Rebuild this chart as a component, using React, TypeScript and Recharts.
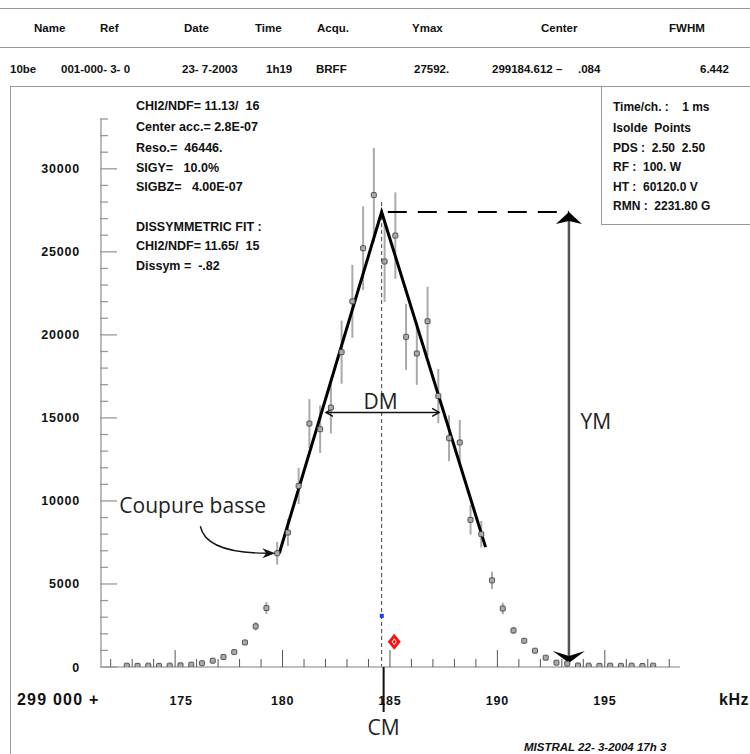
import React from 'react';
import {
  ComposedChart,
  Scatter,
  Line,
  XAxis,
  YAxis,
  ErrorBar,
  ReferenceLine,
  ReferenceDot,
} from 'recharts';

// ---------- data ----------
const freqs = [
  172.75, 173.25, 173.75, 174.25, 174.75, 175.25, 175.75, 176.25, 176.75, 177.25,
  177.75, 178.25, 178.75, 179.25, 179.75, 180.25, 180.75, 181.25, 181.75, 182.25,
  182.75, 183.25, 183.75, 184.25, 184.75, 185.25, 185.75, 186.25, 186.75, 187.25,
  187.75, 188.25, 188.75, 189.25, 189.75, 190.25, 190.75, 191.25, 191.75, 192.25,
  192.75, 193.25, 193.75, 194.25, 194.75, 195.25, 195.75, 196.25, 196.75, 197.25,
];
const counts = [
  80, 70, 80, 70, 80, 100, 140, 230, 380, 600,
  900, 1480, 2450, 3550, 6850, 8100, 10900, 14660, 14320, 15620,
  18960, 22020, 25220, 28420, 24420, 25980, 19880, 18880, 20820, 16320,
  13780, 13520, 8860, 8000, 5220, 3520, 2200, 1580, 980, 560,
  260, 200, 90, 80, 70, 80, 70, 80, 60, 80,
];
const errors = [
  10, 10, 10, 10, 10, 12, 15, 25, 40, 60,
  90, 150, 250, 360, 690, 810, 1090, 1470, 1430, 1560,
  1900, 2200, 2520, 2840, 2440, 2600, 1990, 1890, 2080, 1630,
  1380, 1350, 890, 800, 520, 350, 220, 160, 100, 60,
  30, 20, 10, 10, 10, 10, 10, 10, 10, 10,
];
const fitX = [179.85, 184.612, 189.45];
const fitY = [6850, 27400, 7220];
const centerKHz = 184.612;
const ymaxFit = 27400;
const ymArrowX = 193.33;
const dmY = 15330;
const dmFrom = 182.02;
const dmTo = 187.29;
const blueMark = { x: 184.62, y: 3080 };
const redMark = { x: 185.2, y: 1520 };

const xTicks = [
  172, 173, 174, 175, 176, 177, 178, 179, 180, 181, 182, 183, 184, 185,
  186, 187, 188, 189, 190, 191, 192, 193, 194, 195, 196, 197, 198,
];
const yTicks = [
  0, 1000, 2000, 3000, 4000, 5000, 6000, 7000, 8000, 9000, 10000, 11000,
  12000, 13000, 14000, 15000, 16000, 17000, 18000, 19000, 20000, 21000,
  22000, 23000, 24000, 25000, 26000, 27000, 28000, 29000, 30000, 31000,
  32000, 33000,
];
const xLabelTicks = [175, 180, 185, 190, 195];
const yLabelTicks = [0, 5000, 10000, 15000, 20000, 25000, 30000];

const headerLabels = ['Name', 'Ref', 'Date', 'Time', 'Acqu.', 'Ymax', 'Center', 'FWHM'];
const headerValues = ['10be', '001-000- 3- 0', '23- 7-2003', '1h19', 'BRFF', '27592.', '299184.612 \u2013', '.084', '6.442'];
const leftInfo = [
  'CHI2/NDF= 11.13/  16',
  'Center acc.= 2.8E-07',
  'Reso.=  46446.',
  'SIGY=   10.0%',
  'SIGBZ=   4.00E-07',
  'DISSYMMETRIC FIT :',
  'CHI2/NDF= 11.65/  15',
  'Dissym =  -.82',
];
const rightInfo = [
  'Time/ch. :    1 ms',
  'Isolde  Points',
  'PDS :  2.50  2.50',
  'RF :  100. W',
  'HT :  60120.0 V',
  'RMN :  2231.80 G',
];

const points = freqs.map((x, i) => ({ x, y: counts[i], err: errors[i] }));
const fitData = fitX.map((x, i) => ({ x, y: fitY[i] }));

// ---------- styles ----------
const HV = 'Liberation Sans, Arial, Helvetica, sans-serif';
const HUM = 'Open Sans, Lato, sans-serif';
const txt = {
  fontFamily: HV,
  fontWeight: 700,
  fontSize: 12,
  fill: '#111',
  whiteSpace: 'pre' as const,
};

const XTick = (props: any) => {
  const { x, y, payload } = props;
  const v = payload.value;
  const major = xLabelTicks.includes(v);
  const shift = v === 175 ? 6 : 0;
  return (
    <g>
      <line x1={x} x2={x} y1={y} y2={y - (major ? 17 : 8)} stroke="#555" strokeWidth={1} />
      {major && (
        <text x={x + shift} y={y + 38} textAnchor="middle" style={{ ...txt, fontSize: 12.5, letterSpacing: 0.8 }}>
          {v}
        </text>
      )}
    </g>
  );
};

const YTick = (props: any) => {
  const { x, y, payload } = props;
  const v = payload.value;
  const major = yLabelTicks.includes(v);
  return (
    <g>
      <line x1={x - 1} x2={x - 1 + (major ? 17 : 8)} y1={y} y2={y} stroke="#999" strokeWidth={1.3} />
      {major && (
        <text x={x - 21} y={y + 4.5} textAnchor="end" style={{ ...txt, fontSize: 12.5, letterSpacing: 0.8 }}>
          {v}
        </text>
      )}
    </g>
  );
};

const Marker = (p: any) => {
  const { cx, cy } = p;
  if (cx == null || cy == null) return null;
  return <rect x={cx - 2.5} y={cy - 2.5} width={5} height={5} rx={1} fill="#aaa" stroke="#444" strokeWidth={0.9} />;
};

const YMArrow = (p: any) => {
  const { x1, y1, y2 } = p;
  const x = x1;
  const top = Math.min(y1, y2);
  const bot = Math.max(y1, y2);
  return (
    <g>
      <line x1={x} x2={x} y1={top + 8} y2={bot - 10} stroke="#555" strokeWidth={2.5} />
      <path d={`M${x},${top} L${x + 13},${top + 12} L${x},${top + 9} L${x - 13},${top + 12} Z`} fill="#000" />
      <path d={`M${x},${bot - 4} L${x + 16},${bot - 16} L${x},${bot - 11} L${x - 16},${bot - 16} Z`} fill="#000" />
      <text x={x + 27} y={top + 217} textAnchor="middle" style={{ fontFamily: HUM, fontSize: 21, fill: '#222' }}>
        YM
      </text>
    </g>
  );
};

const DMArrow = (p: any) => {
  const { x1, x2, y1 } = p;
  const a = Math.min(x1, x2);
  const b = Math.max(x1, x2);
  const y = y1;
  return (
    <g>
      <line x1={a} x2={b} y1={y} y2={y} stroke="#111" strokeWidth={1.4} />
      <path d={`M${a + 7},${y - 4} L${a},${y} L${a + 7},${y + 4}`} fill="none" stroke="#111" strokeWidth={1.4} />
      <path d={`M${b - 7},${y - 4} L${b},${y} L${b - 7},${y + 4}`} fill="none" stroke="#111" strokeWidth={1.4} />
      <text x={(a + b) / 2 - 2} y={y - 3} textAnchor="middle" style={{ fontFamily: HUM, fontSize: 21, fill: '#222' }}>
        DM
      </text>
    </g>
  );
};

const CutArrow = (p: any) => {
  const { cx, cy } = p;
  if (cx == null) return null;
  const tx = cx - 4;
  return (
    <g>
      <path d={`M${cx - 79},${cy - 27} C${cx - 75},${cy - 8} ${cx - 50},${cy} ${tx - 8},${cy}`} fill="none" stroke="#111" strokeWidth={1.4} />
      <path d={`M${tx},${cy} L${tx - 13},${cy - 5} L${tx - 9},${cy} L${tx - 13},${cy + 5} Z`} fill="#111" />
      <text x={cx - 160} y={cy - 40} style={{ fontFamily: HUM, fontSize: 21, fill: '#222' }}>
        Coupure basse
      </text>
    </g>
  );
};

const CMMark = (p: any) => {
  const { cx, cy } = p;
  if (cx == null) return null;
  return (
    <g>
      <line x1={cx + 2} x2={cx + 2} y1={cy} y2={cy + 45} stroke="#111" strokeWidth={2} />
      <text x={cx + 2} y={cy + 68} textAnchor="middle" style={{ fontFamily: HUM, fontSize: 21, fill: '#222' }}>
        CM
      </text>
    </g>
  );
};

const BlueDot = (p: any) => {
  const { cx, cy } = p;
  if (cx == null) return null;
  return <rect x={cx - 2} y={cy - 2} width={4} height={4} fill="#1a3cff" />;
};

const RedDiamond = (p: any) => {
  const { cx, cy } = p;
  if (cx == null) return null;
  return (
    <g>
      <path d={`M${cx},${cy - 8} L${cx + 6.5},${cy} L${cx},${cy + 8} L${cx - 6.5},${cy} Z`} fill="#ff1010" />
      <path d={`M${cx},${cy - 3} L${cx + 2},${cy} L${cx},${cy + 3} L${cx - 2},${cy} Z`} fill="none" stroke="#fff" strokeWidth={1} />
    </g>
  );
};

export default function App() {
  const headerX = [34, 100, 184, 255, 317, 412, 541, 669];
  const valueX = [10, 61, 182, 266, 316, 414, 492, 578, 700];
  const leftY = [110, 131, 151.5, 171.5, 191, 230.5, 250, 270];
  const rightY = [111, 131.5, 151.5, 171, 191, 210];
  return (
    <div style={{ position: 'absolute', left: 0, top: 0, width: 750, height: 754, background: '#fff', overflow: 'hidden' }}>
      <ComposedChart
        width={750}
        height={754}
        margin={{ top: 119, right: 70, bottom: 57, left: 41 }}
      >
        <XAxis
          type="number"
          dataKey="x"
          domain={[171.55, 198.5]}
          ticks={xTicks}
          interval={0}
          allowDataOverflow
          height={30}
          tickSize={0}
          tickMargin={0}
          tickLine={false}
          axisLine={{ stroke: '#aaa', strokeWidth: 1.6 }}
          tick={<XTick />}
        />
        <YAxis
          type="number"
          dataKey="y"
          domain={[0, 33000]}
          ticks={yTicks}
          interval={0}
          allowDataOverflow
          width={60}
          tickSize={0}
          tickMargin={0}
          tickLine={false}
          axisLine={{ stroke: '#aaa', strokeWidth: 1.6 }}
          tick={<YTick />}
        />
        <ReferenceLine
          segment={[{ x: centerKHz, y: 28000 }, { x: centerKHz, y: 0 }]}
          stroke="#444"
          strokeWidth={1}
          strokeDasharray="4 3"
        />
        <Scatter data={points} dataKey="y" shape={<Marker />} isAnimationActive={false}>
          <ErrorBar dataKey="err" direction="y" width={0} stroke="#aaa" strokeWidth={2} />
        </Scatter>
        <Line
          data={fitData}
          dataKey="y"
          type="linear"
          stroke="#000"
          strokeWidth={3}
          dot={false}
          activeDot={false}
          isAnimationActive={false}
        />
        <ReferenceLine
          segment={[{ x: 184.9, y: ymaxFit }, { x: ymArrowX, y: ymaxFit }]}
          stroke="#000"
          strokeWidth={2}
          strokeDasharray="19 11"
        />
        <ReferenceLine
          segment={[{ x: ymArrowX, y: ymaxFit }, { x: ymArrowX, y: 0 }]}
          shape={<YMArrow />}
        />
        <ReferenceLine
          segment={[{ x: dmFrom, y: dmY }, { x: dmTo, y: dmY }]}
          shape={<DMArrow />}
        />
        <ReferenceDot x={fitX[0]} y={fitY[0]} r={0} shape={<CutArrow />} />
        <ReferenceDot x={centerKHz} y={0} r={0} shape={<CMMark />} />
        <ReferenceDot x={blueMark.x} y={blueMark.y} r={2} shape={<BlueDot />} />
        <ReferenceDot x={redMark.x} y={redMark.y} r={6} shape={<RedDiamond />} />
      </ComposedChart>
      <svg
        width={750}
        height={754}
        style={{ position: 'absolute', left: 0, top: 0, pointerEvents: 'none' }}
      >
        <line x1={0} x2={750} y1={8.5} y2={8.5} stroke="#999" strokeWidth={1} />
        <line x1={0} x2={750} y1={47.5} y2={47.5} stroke="#999" strokeWidth={1} />
        <line x1={10} x2={750} y1={86.5} y2={86.5} stroke="#999" strokeWidth={1} />
        <line x1={10.5} x2={10.5} y1={86} y2={754} stroke="#999" strokeWidth={1} />
        <line x1={601.5} x2={601.5} y1={86} y2={224.5} stroke="#999" strokeWidth={1} />
        <line x1={601} x2={750} y1={224.5} y2={224.5} stroke="#999" strokeWidth={1} />
        {headerLabels.map((h, i) => (
          <text key={h} x={headerX[i]} y={32} style={{ ...txt, fontSize: 11.5 }}>{h}</text>
        ))}
        {headerValues.map((h, i) => (
          <text key={i} x={valueX[i]} y={73} style={{ ...txt, fontSize: 11.5 }}>{h}</text>
        ))}
        {leftInfo.map((s, i) => (
          <text key={i} x={136} y={leftY[i]} style={{ ...txt, fontSize: 12.5 }}>{s}</text>
        ))}
        {rightInfo.map((s, i) => (
          <text key={i} x={613} y={rightY[i]} style={{ ...txt, fontSize: 12 }}>{s}</text>
        ))}
        <text x={17} y={705} style={{ ...txt, fontSize: 16, letterSpacing: 1.2 }}>299 000 +</text>
        <text x={719} y={705} style={{ ...txt, fontSize: 16, letterSpacing: 0.5 }}>kHz</text>
        <text x={524} y={751} style={{ ...txt, fontSize: 11.5, fontStyle: 'italic' }}>MISTRAL 22- 3-2004 17h 3</text>
      </svg>
    </div>
  );
}
